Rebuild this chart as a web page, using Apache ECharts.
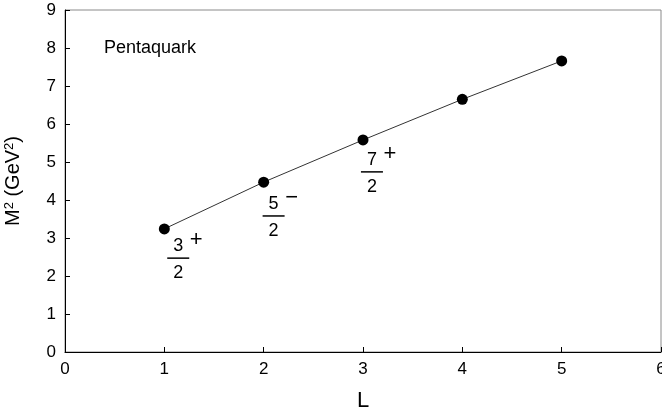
<!DOCTYPE html>
<html><head><meta charset="utf-8">
<script src="https://cdn.jsdelivr.net/npm/echarts@6/dist/echarts.min.js"></script>
<style>html,body{margin:0;padding:0;background:#fff}#c{width:662px;height:414px}</style>
</head><body><div id="c"></div>
<script>
var L = [1, 2, 3, 4, 5];
var M2 = [3.24, 4.47, 5.58, 6.65, 7.66];
var fracX = [1.14, 2.10, 3.09];
var fracY = [2.47, 3.58, 4.74];
var numerators = ['3', '5', '7'];
var denominators = ['2', '2', '2'];
var parity = ['+', '\u2212', '+'];
var xTicks = [0, 1, 2, 3, 4, 5, 6];
var yTicks = [0, 1, 2, 3, 4, 5, 6, 7, 8, 9];

var FONT = 'Liberation Sans';
var chart = echarts.init(document.getElementById('c'));
var fracData = fracX.map(function (x, i) { return [x, fracY[i], numerators[i], denominators[i], parity[i]]; });

chart.setOption({
  animation: false,
  title: { text: 'Pentaquark', left: 104, top: 39, padding: 0, textStyle: { fontFamily: FONT, fontSize: 18, fontWeight: 'normal', color: '#000' } },
  grid: { left: 65, right: 1, top: 10, bottom: 62, containLabel: false, outerBoundsMode: 'none', show: true, borderColor: '#8a8a8a', borderWidth: 1 },
  xAxis: {
    type: 'value', min: xTicks[0], max: xTicks[xTicks.length - 1], interval: 1,
    name: 'L', nameLocation: 'middle', nameGap: 38,
    nameTextStyle: { fontFamily: FONT, fontSize: 22, color: '#000' },
    axisLine: { lineStyle: { color: '#000', width: 1 } },
    axisTick: { inside: true, length: 5, lineStyle: { color: '#000' } },
    axisLabel: { fontFamily: FONT, fontSize: 17, color: '#000', margin: 9 },
    splitLine: { show: false }
  },
  yAxis: {
    type: 'value', min: yTicks[0], max: yTicks[yTicks.length - 1], interval: 1,
    name: 'M{sup|2} (GeV{sup|2})', nameLocation: 'middle', nameGap: 42, nameRotate: 90,
    nameTextStyle: { fontFamily: FONT, fontSize: 20, color: '#000',
      rich: { sup: { fontFamily: FONT, fontSize: 13, verticalAlign: 'top', color: '#000' } } },
    axisLine: { lineStyle: { color: '#000', width: 1 } },
    axisTick: { inside: true, length: 5, lineStyle: { color: '#000' } },
    axisLabel: { fontFamily: FONT, fontSize: 17, color: '#000', margin: 9 },
    splitLine: { show: false }
  },
  series: [
    {
      type: 'line', data: L.map(function (x, i) { return [x, M2[i]]; }),
      symbol: 'circle', symbolSize: 11,
      lineStyle: { color: '#333', width: 1 },
      itemStyle: { color: '#000' }
    },
    {
      type: 'scatter', data: fracData, symbolSize: 0, itemStyle: { color: 'transparent', opacity: 1 },
      label: {
        show: true, position: 'inside', offset: [0, 3], color: '#000', textBorderWidth: 0, opacity: 1,
        formatter: function (p) { return '{n|' + p.data[2] + '}\n{bar|}\n{d|' + p.data[3] + '}'; },
        rich: {
          n: { fontFamily: FONT, fontSize: 18, color: '#000', lineHeight: 20, align: 'center', textBorderWidth: 0 },
          bar: { width: 22, height: 1.5, lineHeight: 4, backgroundColor: '#000', align: 'center' },
          d: { fontFamily: FONT, fontSize: 18, color: '#000', lineHeight: 26, align: 'center', textBorderWidth: 0 }
        }
      }
    },
    {
      type: 'scatter', data: fracData, symbolSize: 0, itemStyle: { color: 'transparent', opacity: 1 },
      label: {
        show: true, position: 'inside', offset: [18, -18], color: '#000', textBorderWidth: 0, opacity: 1,
        formatter: function (p) { return p.data[4]; },
        fontFamily: FONT, fontSize: 22
      }
    }
  ]
});
</script></body></html>
